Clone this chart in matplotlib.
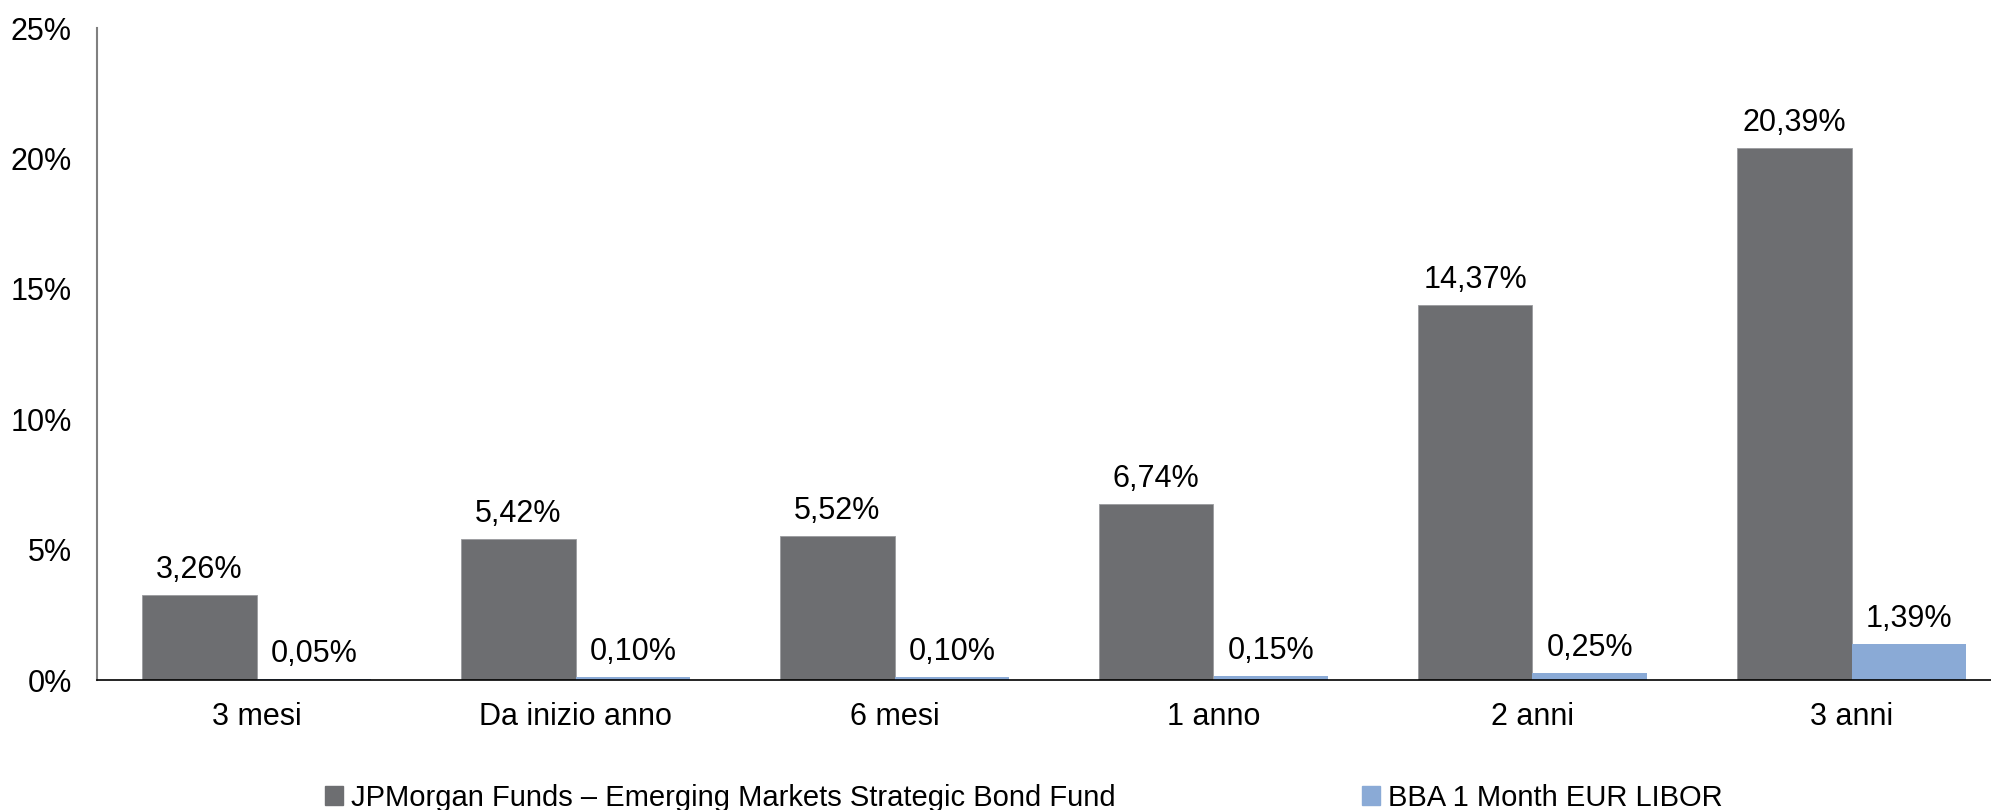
import numpy as np
import matplotlib
matplotlib.use("Agg")
import matplotlib.pyplot as plt
from matplotlib.patches import Patch

categories = ["3 mesi", "Da inizio anno", "6 mesi", "1 anno", "2 anni", "3 anni"]
fund = [3.26, 5.42, 5.52, 6.74, 14.37, 20.39]
libor = [0.05, 0.10, 0.10, 0.15, 0.25, 1.39]
series_names = ["JPMorgan Funds \u2013 Emerging Markets Strategic Bond Fund",
                "BBA 1 Month EUR LIBOR"]
y_ticks = [0, 5, 10, 15, 20, 25]

grey = "#6D6E71"
blue = "#8AAAD6"

plt.rcParams["font.family"] = ["Liberation Sans", "DejaVu Sans"]

fig = plt.figure(figsize=(19.91, 8.10), dpi=100)
ax = fig.add_axes([97 / 1991, 1 - 680 / 810, 1 - 97 / 1991, (680 - 28) / 810])

x = np.arange(len(categories))
w = 0.36
b1 = ax.bar(x - w / 2, fund, w, color=grey, edgecolor="#9a9b9e", linewidth=0.6)
b2 = ax.bar(x + w / 2, libor, w, color=blue)

def fmt(v):
    return f"{v:.2f}".replace(".", ",") + "%"

for bars, vals in [(b1, fund), (b2, libor)]:
    for r, v in zip(bars, vals):
        ax.annotate(fmt(v), (r.get_x() + r.get_width() / 2, r.get_height()),
                    xytext=(0, 10), textcoords="offset pixels",
                    ha="center", va="bottom", fontsize=22)

ax.set_ylim(0, 25)
ax.set_xlim(-0.5, -0.5 + (1991 - 97) / 319)
ax.set_yticks(y_ticks)
ax.set_yticklabels([f"{t}%" for t in y_ticks], fontsize=22)
ax.set_xticks(x)
ax.set_xticklabels(categories, fontsize=22)
ax.tick_params(axis="both", length=0)
ax.tick_params(axis="y", pad=18)
ax.tick_params(axis="x", pad=16)

for s in ["top", "right"]:
    ax.spines[s].set_visible(False)
ax.spines["left"].set_color("#808080")
ax.spines["left"].set_linewidth(1.5)
ax.spines["bottom"].set_color("black")
ax.spines["bottom"].set_linewidth(1.2)

leg_font = {"family": ["Liberation Sans", "DejaVu Sans"], "size": 21}
leg1 = fig.legend(handles=[Patch(color=grey, label=series_names[0])],
                  loc="center left", bbox_to_anchor=(325 / 1991, 1 - 798 / 810),
                  frameon=False, prop=leg_font, handlelength=0.6, handleheight=0.6,
                  handletextpad=0.3, borderaxespad=0, borderpad=0)
leg2 = fig.legend(handles=[Patch(color=blue, label=series_names[1])],
                  loc="center left", bbox_to_anchor=(1362 / 1991, 1 - 798 / 810),
                  frameon=False, prop=leg_font, handlelength=0.6, handleheight=0.6,
                  handletextpad=0.3, borderaxespad=0, borderpad=0)

fig.savefig("out.png", dpi=100)
